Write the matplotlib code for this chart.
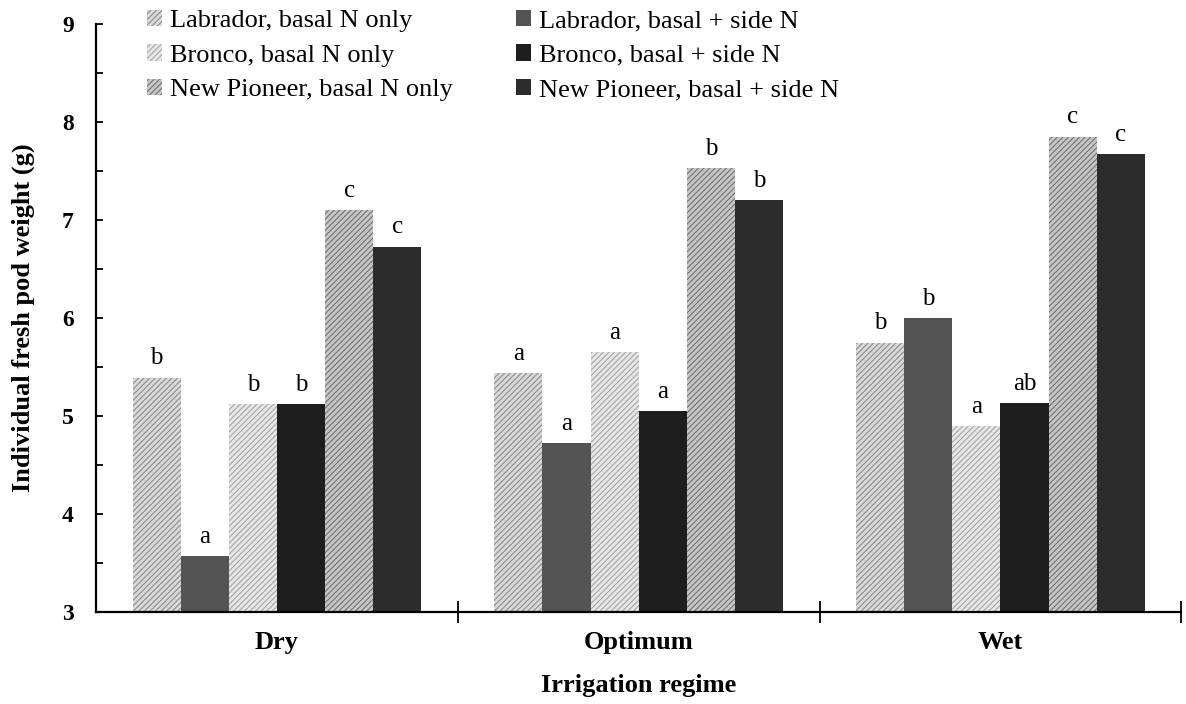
import numpy as np
import matplotlib
matplotlib.use('Agg')
import matplotlib.pyplot as plt

plt.rcParams['font.family'] = ['Liberation Serif', 'DejaVu Serif']
plt.rcParams['hatch.linewidth'] = 0.8

# data
regimes = ['Dry', 'Optimum', 'Wet']
series = ['Labrador, basal N only', 'Labrador, basal + side N',
          'Bronco, basal N only', 'Bronco, basal + side N',
          'New Pioneer, basal N only', 'New Pioneer, basal + side N']
lab_basal = [5.39, 5.44, 5.75]
lab_side = [3.57, 4.72, 6.00]
bro_basal = [5.12, 5.65, 4.90]
bro_side = [5.12, 5.05, 5.13]
np_basal = [7.10, 7.53, 7.85]
np_side = [6.73, 7.20, 7.67]
values = [lab_basal, lab_side, bro_basal, bro_side, np_basal, np_side]
# significance letters, per series over Dry / Optimum / Wet
letters = [['b', 'a', 'b'], ['a', 'a', 'b'], ['b', 'a', 'a'],
           ['b', 'a', 'ab'], ['c', 'b', 'c'], ['c', 'b', 'c']]

# face, hatch colour, hatch
styles = [('#d9d9d9', '#8c8c8c', '//////'),
          ('#545454', '#545454', None),
          ('#e6e6e6', '#a6a6a6', '//////'),
          ('#1e1e1e', '#1e1e1e', None),
          ('#c6c6c6', '#727272', '//////'),
          ('#2c2c2c', '#2c2c2c', None)]

fig = plt.figure(figsize=(11.86, 7.04), dpi=100)
ax = fig.add_axes([0.081, 0.1307, 0.915, 0.835])

w = 0.133
centers = np.arange(len(regimes)) + 0.5
handles = []
for i, (vals, (fc, hc, hatch)) in enumerate(zip(values, styles)):
    xs = centers + (i - 2.5) * w
    bars = ax.bar(xs, np.array(vals) - 3, width=w, bottom=3, color=fc,
                  edgecolor=hc, hatch=hatch, linewidth=0, label=series[i])
    handles.append(bars)
    for x, v, t in zip(xs, vals, letters[i]):
        ax.annotate(t, (x, v), xytext=(0, 6), textcoords='offset points',
                    ha='center', va='bottom', fontsize=18)

ax.set_xlim(0, 3)
ax.set_ylim(3, 9)
ax.set_yticks(np.arange(3, 10, 1))
ax.set_yticks(np.arange(3.5, 9, 1), minor=True)
ax.tick_params(axis='y', which='both', direction='in', length=5, width=1.3,
               labelsize=17, pad=16)
for lab in ax.get_yticklabels():
    lab.set_fontweight('bold')

ax.set_xticks([1, 2, 3])
ax.set_xticklabels([])
ax.set_xticks(centers, minor=True)
ax.set_xticklabels(regimes, minor=True, fontsize=19, fontweight='bold')
ax.tick_params(axis='x', which='major', direction='inout', length=16, width=1.3)
ax.tick_params(axis='x', which='minor', length=0, pad=14)

for s in ['top', 'right']:
    ax.spines[s].set_visible(False)
for s in ['left', 'bottom']:
    ax.spines[s].set_linewidth(1.6)

ax.set_ylabel('Individual fresh pod weight (g)', fontsize=19, fontweight='bold')
ax.set_xlabel('Irrigation regime', fontsize=19, fontweight='bold')
ax.yaxis.set_label_coords(-0.056, 0.5)
ax.xaxis.set_label_coords(0.5, -0.105)

order = [0, 2, 4, 1, 3, 5]
ax.legend([handles[k] for k in order], [series[k] for k in order], ncol=2,
          loc='upper left', bbox_to_anchor=(0.035, 1.047), frameon=False,
          fontsize=19, handlelength=0.57, handleheight=0.57, handletextpad=0.3,
          labelspacing=0.46, columnspacing=2.4, borderpad=0)

fig.savefig('out.png', dpi=100)
